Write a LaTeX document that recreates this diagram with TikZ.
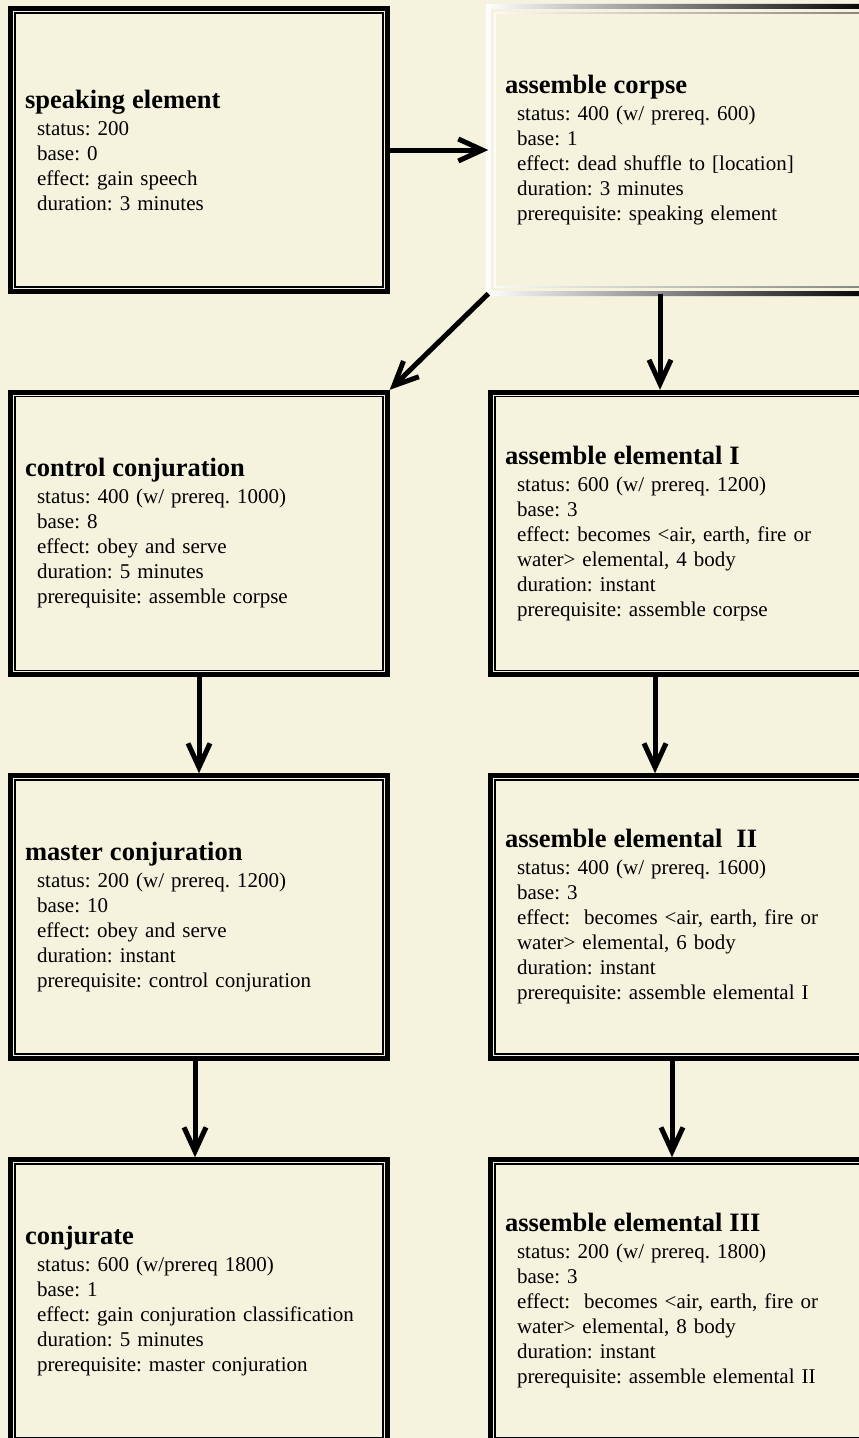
\documentclass[tikz,border=0pt]{standalone}
\usepackage{fontspec}
\setmainfont{Liberation Serif}
\usepackage{xcolor}
\usepackage{tikz}
\usetikzlibrary {arrows.meta,backgrounds,fit,positioning}
\definecolor{parchment}{RGB}{245,242,221}
\pgfdeclarelayer{paper}
\pgfsetlayers{paper,background,main}
\frenchspacing
\newcommand{\hd}[1]{{\fontsize{26.5}{30}\selectfont\bfseries #1}\\[2pt]}
\newcommand{\indt}{\hspace*{12pt}}

\tikzset{
  card/.style={draw, line width=1.3pt, outer sep=0pt, minimum width=368pt,
    minimum height=274pt, text width=348pt, inner xsep=10pt, align=left,
    font=\fontsize{21}{25}\selectfont},
  rim/.style={draw, line width=5pt, inner sep=4.2pt},
  link/.style={line width=5pt, -{Straight Barb[length=24pt,width=22pt]}}
}

\begin{document}
\begin{tikzpicture}[x=1pt, y=-1pt]
\useasboundingbox (0,0) rectangle (859,1438);
\begin{pgfonlayer}{paper}
\fill[parchment] (0,0) rectangle (859,1438);
\end{pgfonlayer}

\node (b1) at (199,150) [card]{\hd{speaking element}
\indt status: 200\\ \indt base: 0\\ \indt effect: gain speech\\
\indt duration: 3 minutes};
\begin{scope}[on background layer]
\node (f1) [rim, fit=(b1)] {};
\end{scope}

\node (b2) at (679,150) [card, draw=none]{\hd{assemble corpse}
\indt status: 400 (w/ prereq. 600)\\ \indt base: 1\\
\indt effect: dead shuffle to [location]\\ \indt duration: 3 minutes\\
\indt prerequisite: speaking element};
\begin{scope}[on background layer]
\node (f2) [rim, draw=none, fit=(b2)] {};
% light-to-dark frame
\shade[left color=white, right color=black, even odd rule]
  ([shift={(-2.5pt,2.5pt)}]f2.north west) rectangle ([shift={(2.5pt,-2.5pt)}]f2.south east)
  ([shift={(2.5pt,-2.5pt)}]f2.north west) rectangle ([shift={(-2.5pt,2.5pt)}]f2.south east);
\shade[left color=white, right color=black!70, even odd rule]
  ([shift={(-0.65pt,0.65pt)}]b2.north west) rectangle ([shift={(0.65pt,-0.65pt)}]b2.south east)
  ([shift={(0.65pt,-0.65pt)}]b2.north west) rectangle ([shift={(-0.65pt,0.65pt)}]b2.south east);
\end{scope}

\node (b3) at (199,533.5) [card]{\hd{control conjuration}
\indt status: 400 (w/ prereq. 1000)\\ \indt base: 8\\
\indt effect: obey and serve\\ \indt duration: 5 minutes\\
\indt prerequisite: assemble corpse};
\begin{scope}[on background layer]
\node (f3) [rim, fit=(b3)] {};
\end{scope}

\node (b4) at (679,533.5) [card]{\hd{assemble elemental I}
\indt status: 600 (w/ prereq. 1200)\\ \indt base: 3\\
\indt effect: becomes <air, earth, fire or\\ \indt water> elemental, 4 body\\
\indt duration: instant\\ \indt prerequisite: assemble corpse};
\begin{scope}[on background layer]
\node (f4) [rim, fit=(b4)] {};
\end{scope}

\node (b5) at (199,917) [card]{\hd{master conjuration}
\indt status: 200 (w/ prereq. 1200)\\ \indt base: 10\\
\indt effect: obey and serve\\ \indt duration: instant\\
\indt prerequisite: control conjuration};
\begin{scope}[on background layer]
\node (f5) [rim, fit=(b5)] {};
\end{scope}

\node (b6) at (679,917) [card]{\hd{assemble elemental\ \ II}
\indt status: 400 (w/ prereq. 1600)\\ \indt base: 3\\
\indt effect:\ \ becomes <air, earth, fire or\\ \indt water> elemental, 6 body\\
\indt duration: instant\\ \indt prerequisite: assemble elemental I};
\begin{scope}[on background layer]
\node (f6) [rim, fit=(b6)] {};
\end{scope}

\node (b7) at (199,1301) [card]{\hd{conjurate}
\indt status: 600 (w/prereq 1800)\\ \indt base: 1\\
\indt effect: gain conjuration classification\\ \indt duration: 5 minutes\\
\indt prerequisite: master conjuration};
\begin{scope}[on background layer]
\node (f7) [rim, fit=(b7)] {};
\end{scope}

\node (b8) at (679,1301) [card]{\hd{assemble elemental III}
\indt status: 200 (w/ prereq. 1800)\\ \indt base: 3\\
\indt effect:\ \ becomes <air, earth, fire or\\ \indt water> elemental, 8 body\\
\indt duration: instant\\ \indt prerequisite: assemble elemental II};
\begin{scope}[on background layer]
\node (f8) [rim, fit=(b8)] {};
\end{scope}

\draw[link] (f1.east) -- (f2.west);
\draw[link] (f2.south west) -- (f3.north east);
\draw[link] ([xshift=-19pt]f2.south) -- ([xshift=-19pt]f4.north);
\draw[link] (f3.south) -- (f5.north);
\draw[link] ([xshift=-24pt]f4.south) -- ([xshift=-24pt]f6.north);
\draw[link] ([xshift=-4pt]f5.south) -- ([xshift=-4pt]f7.north);
\draw[link] ([xshift=-7pt]f6.south) -- ([xshift=-7pt]f8.north);

\end{tikzpicture}
\end{document}
